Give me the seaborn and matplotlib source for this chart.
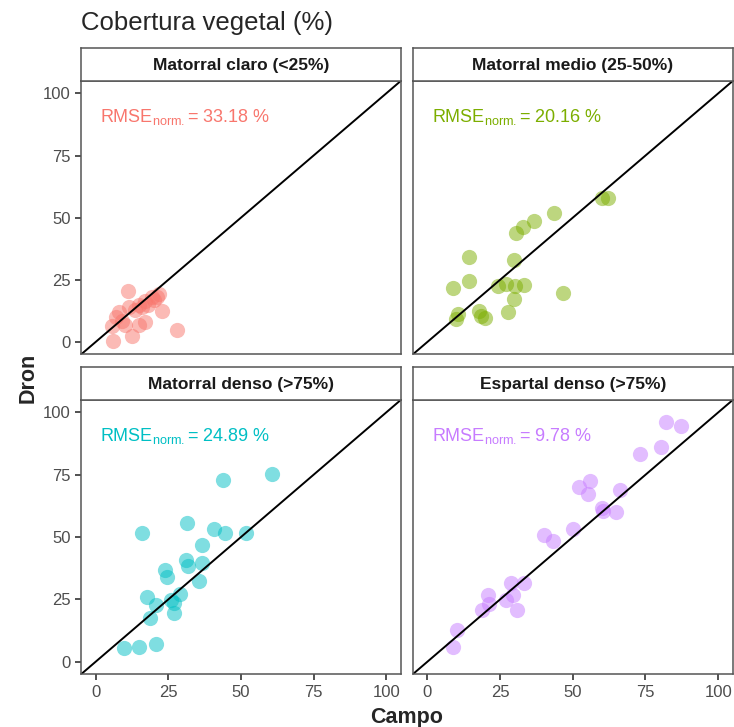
import matplotlib
matplotlib.use('agg')
import matplotlib.pyplot as plt
import pandas as pd
import seaborn as sns

# Campo (x) vs Dron (y)
claro_campo = [11, 6, 28, 12.5, 7, 23, 22, 17, 15, 10, 11.5, 9, 19.5, 17, 15, 13.5, 21, 8, 5.5, 16, 18, 20]
claro_dron = [20.5, 0.5, 5, 2.5, 10, 12.5, 19.5, 8, 7, 7, 14, 8.5, 18, 16.5, 15, 13, 18, 12, 6.5, 14, 15, 17]

medio_campo = [60.2, 62.2, 43.6, 36.7, 32.9, 30.6, 14.5, 29.8, 14.5, 8.7, 24.2, 27.1, 30.3, 33.1,
               46.7, 29.8, 27.7, 17.9, 18.5, 20, 10.4, 9.9]
medio_dron = [57.9, 57.9, 52.1, 48.5, 46.3, 43.9, 34.3, 33.2, 24.5, 21.9, 22.5, 23.2, 22.5, 22.8,
              19.9, 17.2, 12.1, 12.5, 10.5, 9.6, 11.2, 9.2]

denso_campo = [60.6, 43.7, 15.9, 31.6, 40.7, 44.7, 51.7, 36.7, 31, 31.8, 36.7, 23.9, 24.7, 35.6,
               29, 17.8, 20.8, 25.8, 27, 26.9, 18.8, 9.9, 14.8, 20.8]
denso_dron = [75.5, 73.1, 51.5, 55.5, 53.2, 51.5, 51.8, 46.7, 40.7, 38.6, 39.6, 37, 34.2, 32.6,
              27.2, 25.8, 22.7, 24.9, 23.5, 19.5, 17.4, 5.4, 6, 7]

espartal_campo = [82.2, 87.3, 80.2, 73.1, 66.2, 56.1, 52.1, 55.2, 60.1, 60.4, 65, 50.2, 40.1, 43.3,
                  28.9, 33.2, 29.6, 26.9, 20.8, 21.2, 18.7, 30.9, 10.1, 8.9]
espartal_dron = [96, 94.6, 86.2, 83.4, 68.9, 72.6, 70, 67.2, 61.5, 60.5, 59.9, 53.1, 51, 48.5,
                 31.5, 31.5, 27, 24.6, 26.7, 23.1, 20.7, 20.7, 12.9, 5.8]

panel_titles = ["Matorral claro (<25%)", "Matorral medio (25-50%)",
                "Matorral denso (>75%)", "Espartal denso (>75%)"]
rmse_values = [33.18, 20.16, 24.89, 9.78]
panel_colors = ["#F8766D", "#7CAE00", "#00BFC4", "#C77CFF"]
ticks = [0, 25, 50, 75, 100]

frames = []
for title, xs, ys in zip(panel_titles,
                         [claro_campo, medio_campo, denso_campo, espartal_campo],
                         [claro_dron, medio_dron, denso_dron, espartal_dron]):
    frames.append(pd.DataFrame({'Campo': xs, 'Dron': ys, 'Tipo': title}))
df = pd.concat(frames, ignore_index=True)

sns.set_style("white")
plt.rcParams['font.family'] = ['Liberation Sans', 'DejaVu Sans']
plt.rcParams['mathtext.default'] = 'regular'

W, H = 734, 727
fig = plt.figure(figsize=(W / 100, H / 100), dpi=100)

# panel boxes in pixels: (left, top, right, bottom)
lefts = [81, 412.7, 81, 412.7]
rights = [400.7, 732.7, 400.7, 732.7]
strip_tops = [47.7, 47.7, 366.7, 366.7]
panel_tops = [81, 81, 400, 400]
panel_bottoms = [354.5, 354.5, 674.3, 674.3]
border = '#555555'

for i, title in enumerate(panel_titles):
    l, r = lefts[i], rights[i]
    ax = fig.add_axes([l / W, 1 - panel_bottoms[i] / H, (r - l) / W,
                       (panel_bottoms[i] - panel_tops[i]) / H])
    sub = df[df['Tipo'] == title]
    sns.scatterplot(data=sub, x='Campo', y='Dron', color=panel_colors[i], s=120,
                    alpha=0.5, linewidth=0, ax=ax, legend=False)
    ax.plot([-5, 105], [-5, 105], color='black', lw=1.4, zorder=1)
    ax.set_xlim(-5, 105)
    ax.set_ylim(-5, 105)
    ax.set_xticks(ticks)
    ax.set_yticks(ticks)
    ax.set_xlabel('')
    ax.set_ylabel('')
    # shared axes: ticks only on the outer panels
    show_x = i >= 2
    show_y = i % 2 == 0
    ax.tick_params(length=4.5, width=1.2, color='#333333', labelcolor='#4D4D4D',
                   labelsize=12, pad=3, bottom=show_x, left=show_y,
                   labelbottom=show_x, labelleft=show_y)
    ax.text(1.5, 88.5, r'RMSE$_{norm.}$= %.2f %%' % rmse_values[i], color=panel_colors[i],
            fontsize=13, ha='left', va='baseline')
    for s in ax.spines.values():
        s.set_color(border)
        s.set_linewidth(1.1)

    # facet strip
    sax = fig.add_axes([l / W, 1 - panel_tops[i] / H, (r - l) / W,
                        (panel_tops[i] - strip_tops[i]) / H])
    sax.set_xticks([])
    sax.set_yticks([])
    sax.set_facecolor('white')
    for s in sax.spines.values():
        s.set_color(border)
        s.set_linewidth(1.1)
    sax.text(0.5, 0.47, title, ha='center', va='center', fontsize=12.5,
             fontweight='bold', color='#1A1A1A', transform=sax.transAxes)

fig.text(81 / W, 1 - 30 / H, "Cobertura vegetal (%)", fontsize=18.5, ha='left', va='baseline')
fig.text(407 / W, 1 - 717 / H, "Campo", fontsize=15.5, fontweight='bold', ha='center', va='center')
fig.text(28 / W, 1 - 378 / H, "Dron", fontsize=15.5, fontweight='bold', ha='center', va='center',
         rotation=90)

plt.savefig('out.png', dpi=100)
